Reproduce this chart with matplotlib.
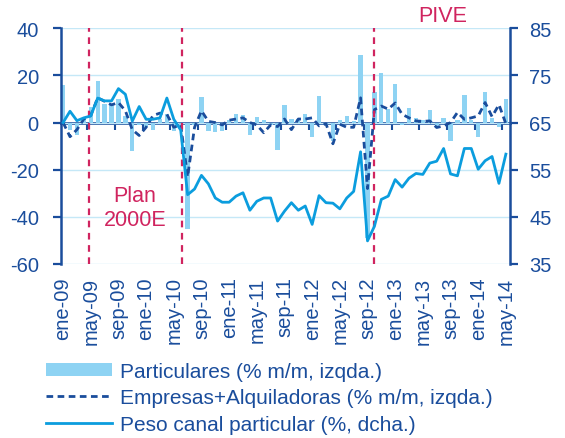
import matplotlib
matplotlib.use("Agg")
import matplotlib.pyplot as plt
import numpy as np

# ene-09 .. may-14, datos mensuales
particulares = [16, -3, -5.3, 2, 6.4, 17.7, 8, 8, 10, 2.8,
                -12, -1, -2, -3, 1.5, 3.5, -3.5, -2, -45, -1,
                11, -3.5, -4, -3.5, 1, 3.8, 3, -5.2, 2.5, 1,
                -1, -11.8, 7.4, 1.5, 1.5, 3.5, -6, 11.3, -1, -8,
                1, 2.8, 0.5, 28.5, -49, 12.8, 21.2, 5.7, 16.3, -1,
                6, 2, 1, 5.2, -2, 2, -8, 1, 11.6, 1,
                -6, 12.8, 2, -2, 9.9]
empresas = [0, -6, -3, 1.5, 3, 10.5, 9, 7.5, 8.5, 5,
            -3, -5.5, -2, 3, 4, 3.5, -2, -1, -23, -2,
            5, 0.5, 0, -1, 1, 1.5, 2, 0, -1, -4.3,
            -1, -1.7, 1.5, -3, 1.5, 1.5, 2, -1.4, -0.5, -9,
            -0.7, -2, -2, 10.5, -28, 5.5, 7, 5.7, 8.3, 3.5,
            2, 0.7, 0.5, 0.7, -2.1, -1.4, 0, 4.3, 1.4, 2,
            2.8, 8.5, 2.5, 7.6, -0.5]
peso = [65, 67.4, 65.4, 66, 66.4, 70.2, 69.6, 69.6, 72.2, 71,
        65.3, 68.4, 65.7, 65.7, 66, 70.2, 65.7, 63.4, 49.7, 50.9,
        53.8, 52, 49, 48.1, 48.1, 49.4, 50.1, 46.4, 48.3, 49,
        49, 44.1, 46.2, 48, 46.4, 47.3, 43.4, 49.5, 48, 47.9,
        46.7, 49, 50.4, 58.8, 39.9, 43, 48.7, 49.4, 52.9, 51.3,
        53.2, 54.2, 54, 56.4, 56.8, 59.5, 54.1, 53.7, 59.5, 59.5,
        55.1, 56.9, 57.8, 52.1, 58.3]
tick_labels = ["ene-09", "may-09", "sep-09", "ene-10", "may-10", "sep-10",
               "ene-11", "may-11", "sep-11", "ene-12", "may-12", "sep-12",
               "ene-13", "may-13", "sep-13", "ene-14", "may-14"]
eventos = [3.8, 17.15, 44.95]

azul = "#1A4D9C"
celeste = "#8ED3F3"
linea = "#0B9DDE"
rejilla = "#C5E8F7"
rojo = "#D0245F"

plt.rcParams["font.family"] = ["Liberation Sans", "DejaVu Sans"]
plt.rcParams["axes.unicode_minus"] = False

x = np.arange(len(particulares))

fig = plt.figure(figsize=(5.65, 4.39), dpi=100)
ax = fig.add_axes([0.108, 0.3964, 0.7947, 0.5369])

barras = ax.bar(x, particulares, width=0.62, color=celeste, zorder=2)
l_emp, = ax.plot(x, empresas, color=azul, lw=2, dashes=(2.4, 1.6), zorder=4)
for ev in eventos:
    ax.axvline(ev, color=rojo, lw=1.6, dashes=(3, 2.5), zorder=5)

ax.set_ylim(-60, 40)
ax.set_yticks(np.arange(-60, 41, 20))
ax.set_xlim(-0.3, 64.6)
ax.set_xticks(np.arange(0, len(x), 4))
ax.set_xticklabels(tick_labels, rotation=90)
ax.grid(axis="y", color=rejilla, lw=1, zorder=0)
ax.set_axisbelow(True)
ax.tick_params(axis="x", length=0, pad=9, labelsize=14.5, labelcolor=azul)
ax.tick_params(axis="y", length=6, width=1.6, color=azul, direction="out",
               pad=10, labelsize=14.5, labelcolor=azul)
for s in ["top", "bottom", "right"]:
    ax.spines[s].set_visible(False)
ax.spines["left"].set_color(azul)
ax.spines["left"].set_linewidth(1.8)

# linea del cero con marcas cada 4 meses
cero = ax.secondary_xaxis(0.6)
cero.set_xticks(np.arange(-0.5, 65, 4))
cero.tick_params(direction="in", length=5, width=1.5, color=azul,
                 labeltop=False, labelbottom=False)
for s in ["top", "bottom"]:
    cero.spines[s].set_color(azul)
    cero.spines[s].set_linewidth(2)

ax2 = ax.twinx()
l_peso, = ax2.plot(x, peso, color=linea, lw=2, zorder=3)
ax2.set_ylim(35, 85)
ax2.set_yticks(np.arange(35, 86, 10))
ax2.tick_params(axis="y", length=6, width=1.6, color=azul, direction="out",
                pad=8, labelsize=14.5, labelcolor=azul)
for s in ["top", "bottom", "left"]:
    ax2.spines[s].set_visible(False)
ax2.spines["right"].set_color(azul)
ax2.spines["right"].set_linewidth(1.8)

ax.text(10.4, -36.2, "Plan\n2000E", color=rojo, fontsize=15.5,
        ha="center", va="center", linespacing=1.2)
ax.text(54.9, 45.6, "PIVE", color=rojo, fontsize=15.5,
        ha="center", va="center", clip_on=False)

leg = fig.legend([barras, l_emp, l_peso],
                 ["Particulares (% m/m, izqda.)",
                  "Empresas+Alquiladoras (% m/m, izqda.)",
                  "Peso canal particular (%, dcha.)"],
                 loc="upper left", bbox_to_anchor=(0.081, 0.174),
                 frameon=False, fontsize=15,
                 handlelength=3.2, handleheight=0.55, handletextpad=0.35,
                 labelspacing=0.36, borderpad=0, borderaxespad=0)
for t in leg.get_texts():
    t.set_color(azul)

fig.savefig("out.png", dpi=100)
